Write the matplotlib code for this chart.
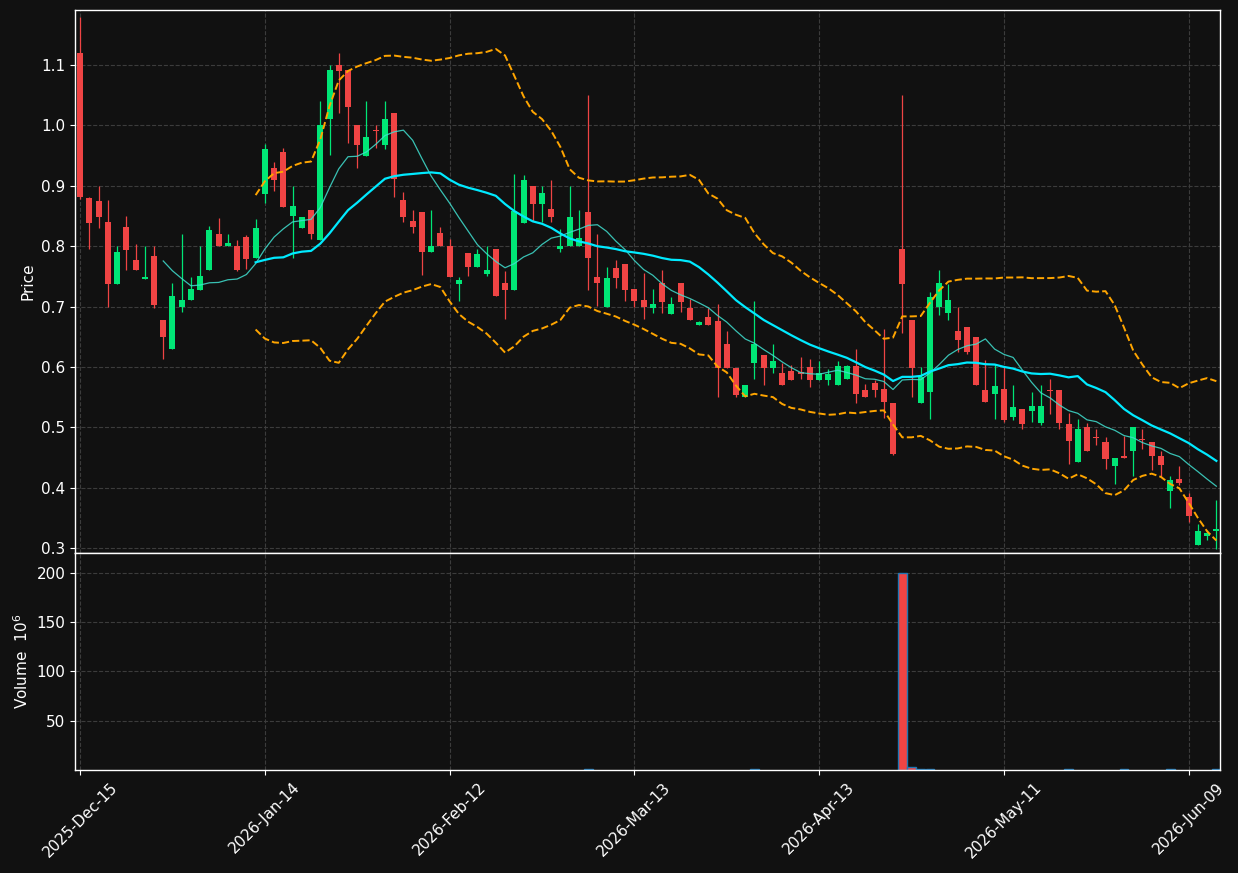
import numpy as np
import pandas as pd
import matplotlib
matplotlib.use("Agg")
import matplotlib.pyplot as plt

# trading days (NYSE calendar) starting 2025-12-15
holidays = ["2025-12-25", "2026-01-01", "2026-01-19", "2026-02-16", "2026-04-03", "2026-05-25"]
dates = pd.bdate_range("2025-12-15", periods=124, freq="C", holidays=holidays)

opens = [1.120, 0.880, 0.875, 0.840, 0.738, 0.832, 0.777, 0.746, 0.784, 0.678,
         0.629, 0.700, 0.710, 0.728, 0.760, 0.820, 0.800, 0.801, 0.815, 0.780,
         0.887, 0.930, 0.955, 0.850, 0.830, 0.860, 0.810, 1.010, 1.100, 1.091,
         1.000, 0.950, 0.992, 0.968, 1.021, 0.877, 0.841, 0.856, 0.790, 0.822,
         0.801, 0.738, 0.789, 0.765, 0.754, 0.796, 0.739, 0.728, 0.839, 0.900,
         0.869, 0.862, 0.796, 0.800, 0.800, 0.857, 0.749, 0.699, 0.763, 0.771,
         0.729, 0.711, 0.698, 0.739, 0.688, 0.739, 0.698, 0.670, 0.683, 0.676,
         0.638, 0.599, 0.550, 0.607, 0.619, 0.599, 0.590, 0.593, 0.591, 0.600,
         0.579, 0.579, 0.570, 0.580, 0.601, 0.561, 0.574, 0.563, 0.540, 0.796,
         0.677, 0.540, 0.558, 0.699, 0.689, 0.660, 0.666, 0.650, 0.561, 0.555,
         0.564, 0.517, 0.531, 0.527, 0.507, 0.562, 0.562, 0.506, 0.442, 0.500,
         0.484, 0.475, 0.436, 0.452, 0.460, 0.481, 0.475, 0.453, 0.394, 0.414,
         0.385, 0.305, 0.320, 0.329]
highs = [1.179, 0.881, 0.900, 0.877, 0.800, 0.850, 0.803, 0.800, 0.800, 0.678,
         0.739, 0.820, 0.749, 0.800, 0.834, 0.846, 0.820, 0.810, 0.819, 0.845,
         0.969, 0.940, 0.963, 0.900, 0.849, 0.860, 1.040, 1.100, 1.120, 1.091,
         1.000, 1.040, 1.000, 1.040, 1.021, 0.889, 0.860, 0.856, 0.860, 0.831,
         0.811, 0.749, 0.789, 0.795, 0.800, 0.796, 0.759, 0.919, 0.917, 0.900,
         0.900, 0.909, 0.828, 0.900, 0.860, 1.050, 0.820, 0.765, 0.777, 0.771,
         0.729, 0.756, 0.729, 0.760, 0.715, 0.739, 0.713, 0.676, 0.698, 0.704,
         0.660, 0.599, 0.570, 0.709, 0.619, 0.638, 0.607, 0.603, 0.617, 0.613,
         0.610, 0.596, 0.610, 0.604, 0.630, 0.572, 0.579, 0.663, 0.540, 1.050,
         0.677, 0.600, 0.724, 0.760, 0.738, 0.699, 0.666, 0.650, 0.611, 0.605,
         0.601, 0.570, 0.531, 0.558, 0.570, 0.580, 0.562, 0.523, 0.514, 0.507,
         0.498, 0.484, 0.449, 0.486, 0.500, 0.498, 0.475, 0.461, 0.419, 0.436,
         0.391, 0.340, 0.330, 0.379]
lows = [0.878, 0.795, 0.830, 0.700, 0.738, 0.760, 0.761, 0.746, 0.698, 0.613,
        0.629, 0.691, 0.710, 0.728, 0.760, 0.800, 0.800, 0.759, 0.762, 0.780,
        0.872, 0.891, 0.865, 0.781, 0.830, 0.811, 0.810, 0.951, 1.020, 0.971,
        0.929, 0.950, 0.963, 0.960, 0.881, 0.840, 0.821, 0.752, 0.790, 0.800,
        0.749, 0.709, 0.750, 0.765, 0.750, 0.718, 0.680, 0.728, 0.839, 0.842,
        0.840, 0.840, 0.790, 0.800, 0.800, 0.728, 0.701, 0.699, 0.730, 0.709,
        0.700, 0.679, 0.689, 0.689, 0.688, 0.691, 0.678, 0.670, 0.669, 0.550,
        0.599, 0.550, 0.550, 0.580, 0.570, 0.590, 0.570, 0.579, 0.580, 0.566,
        0.579, 0.570, 0.570, 0.580, 0.540, 0.550, 0.551, 0.516, 0.455, 0.656,
        0.550, 0.540, 0.513, 0.686, 0.677, 0.624, 0.622, 0.570, 0.542, 0.513,
        0.509, 0.512, 0.498, 0.508, 0.504, 0.522, 0.498, 0.440, 0.442, 0.460,
        0.470, 0.431, 0.406, 0.449, 0.420, 0.464, 0.430, 0.418, 0.367, 0.404,
        0.344, 0.305, 0.313, 0.299]
closes = [0.881, 0.839, 0.849, 0.738, 0.790, 0.794, 0.761, 0.749, 0.703, 0.650,
          0.718, 0.711, 0.729, 0.751, 0.827, 0.800, 0.805, 0.761, 0.778, 0.830,
          0.960, 0.909, 0.865, 0.866, 0.849, 0.820, 1.000, 1.091, 1.090, 1.030,
          0.968, 0.981, 0.990, 1.011, 0.911, 0.848, 0.832, 0.790, 0.800, 0.800,
          0.749, 0.744, 0.765, 0.787, 0.761, 0.718, 0.728, 0.858, 0.910, 0.869,
          0.888, 0.848, 0.800, 0.848, 0.814, 0.780, 0.739, 0.748, 0.748, 0.728,
          0.709, 0.699, 0.704, 0.708, 0.704, 0.707, 0.678, 0.675, 0.669, 0.599,
          0.599, 0.554, 0.570, 0.638, 0.599, 0.610, 0.570, 0.579, 0.589, 0.579,
          0.590, 0.589, 0.602, 0.601, 0.555, 0.550, 0.562, 0.542, 0.456, 0.737,
          0.599, 0.584, 0.715, 0.739, 0.710, 0.644, 0.624, 0.570, 0.542, 0.568,
          0.512, 0.533, 0.506, 0.536, 0.536, 0.560, 0.507, 0.477, 0.497, 0.460,
          0.482, 0.447, 0.449, 0.449, 0.500, 0.479, 0.452, 0.437, 0.412, 0.408,
          0.353, 0.328, 0.325, 0.331]
# volume in millions, only the days with a visible bar
vol_days = [55, 73, 89, 90, 91, 92, 107, 113, 118, 123]
vol_vals = [0.5, 0.5, 200.0, 2.6, 0.6, 0.5, 0.5, 0.5, 0.5, 0.6]

bg = "#111111"
up_c = "#00e676"
down_c = "#ef4444"

df = pd.DataFrame({"Open": opens, "High": highs, "Low": lows, "Close": closes}, index=dates)
ma10 = df["Close"].rolling(10).mean()
ma20 = df["Close"].rolling(20).mean()
sd20 = df["Close"].rolling(20).std(ddof=0)
bb_up = ma20 + 2 * sd20
bb_lo = ma20 - 2 * sd20

fig = plt.figure(figsize=(12.38, 8.73), dpi=100, facecolor=bg)
ax = fig.add_axes([0.0606, 0.3666, 0.9249, 0.6220], facecolor=bg)
axv = fig.add_axes([0.0606, 0.1180, 0.9249, 0.2486], facecolor=bg, sharex=ax)

x = np.arange(len(df))
up = df["Close"] >= df["Open"]
colors = np.where(up, up_c, down_c)

# wicks and bodies
ax.vlines(x, df["Low"], df["High"], colors=colors, linewidth=0.9, zorder=2)
body_lo = np.minimum(df["Open"], df["Close"])
body_h = np.maximum(np.abs(df["Close"] - df["Open"]), 0.002)
ax.bar(x, body_h, bottom=body_lo, width=0.65, color=colors, linewidth=0, zorder=3)

ax.plot(x, ma10, color="#40e0d0", linewidth=0.9, alpha=0.85, zorder=4)
ax.plot(x, ma20, color="#00eaff", linewidth=1.6, zorder=4)
ax.plot(x, bb_up, color="orange", linewidth=1.4, linestyle="--", zorder=4)
ax.plot(x, bb_lo, color="orange", linewidth=1.4, linestyle="--", zorder=4)

# volume
vcols = [up_c if up.iloc[d] else down_c for d in vol_days]
axv.bar(vol_days, vol_vals, width=0.95, color=vcols, edgecolor="#1f77b4", linewidth=1.0)

tick_idx = np.arange(0, len(df), 20)
ax.set_xlim(-0.55, 123.4)
ax.set_ylim(0.292, 1.191)
ax.set_yticks(np.arange(0.3, 1.15, 0.1))
ax.set_yticklabels([f"{v:.1f}" for v in np.arange(0.3, 1.15, 0.1)])
axv.set_ylim(0, 220)
axv.set_yticks([50, 100, 150, 200])
axv.set_xticks(tick_idx)
axv.set_xticklabels([d.strftime("%Y-%b-%d") for d in dates[tick_idx]], rotation=45, ha="center")
ax.tick_params(axis="x", labelbottom=False, length=0)

for a in (ax, axv):
    a.grid(True, color="#3c3c3c", linestyle="--", linewidth=0.8)
    a.set_axisbelow(True)
    a.tick_params(colors="white", labelsize=11)
    for s in a.spines.values():
        s.set_color("white")
        s.set_linewidth(1.0)

ax.set_ylabel("Price", color="white", fontsize=11)
axv.set_ylabel("Volume  $10^{6}$", color="white", fontsize=11)

fig.savefig("out.png", dpi=100, facecolor=bg)
